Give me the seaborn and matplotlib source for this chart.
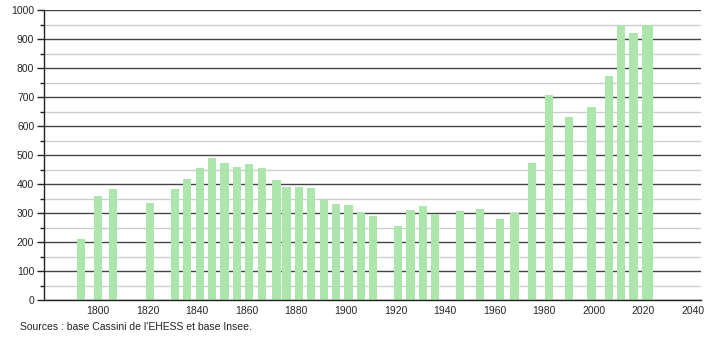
import matplotlib
matplotlib.use("Agg")
import matplotlib.pyplot as plt
import seaborn as sns
import pandas as pd
from matplotlib.ticker import MultipleLocator

years = [1793, 1800, 1806, 1821, 1831, 1836, 1841, 1846, 1851, 1856, 1861, 1866,
         1872, 1876, 1881, 1886, 1891, 1896, 1901, 1906, 1911, 1921, 1926, 1931,
         1936, 1946, 1954, 1962, 1968, 1975, 1982, 1990, 1999, 2006, 2011, 2016,
         2021, 2022]
population = [210, 360, 382, 333, 383, 417, 455, 490, 472, 459, 469, 456,
              414, 390, 390, 386, 346, 332, 328, 305, 290, 255, 310, 324,
              298, 307, 314, 278, 300, 472, 707, 630, 667, 772, 948, 921,
              948, 948]
x_ticks = [1800, 1820, 1840, 1860, 1880, 1900, 1920, 1940, 1960, 1980, 2000, 2020, 2040]
source_text = "Sources : base Cassini de l'EHESS et base Insee."

df = pd.DataFrame({"year": years, "pop": population})

sns.set_style("white")
plt.rcParams["font.family"] = ["Liberation Sans", "DejaVu Sans"]

fig = plt.figure(figsize=(7.1, 3.4), dpi=100)
ax = fig.add_axes([44 / 710, 1 - 300 / 340, (701 - 44) / 710, 290 / 340])

sns.barplot(data=df, x="year", y="pop", native_scale=True, width=3.3,
            color="#ade6ad", saturation=1, errorbar=None, linewidth=0, ax=ax)

ax.set_xlim(1778.2, 2043.2)
ax.set_ylim(0, 1000)
ax.set_xticks(x_ticks)
ax.set_xticklabels([str(t) for t in x_ticks])
ax.yaxis.set_major_locator(MultipleLocator(100))
ax.yaxis.set_minor_locator(MultipleLocator(50))
ax.set_axisbelow(True)
ax.grid(axis="y", which="major", color="#444444", linewidth=1.0)
ax.grid(axis="y", which="minor", color="#cccccc", linewidth=1.0)
ax.set_xlabel("")
ax.set_ylabel("")

for s in ["top", "right"]:
    ax.spines[s].set_visible(False)
ax.spines["left"].set_color("#222222")
ax.spines["bottom"].set_color("#222222")
ax.spines["left"].set_linewidth(1.0)
ax.spines["bottom"].set_linewidth(1.0)

ax.tick_params(axis="y", which="major", length=5, width=1, color="#222222",
               labelsize=7.5, pad=2, left=True)
ax.tick_params(axis="y", which="minor", length=3, width=1, color="#222222", left=True)
ax.tick_params(axis="x", which="major", length=0, labelsize=7.5, pad=4)

fig.text(20 / 710, 1 - 327 / 340, source_text, fontsize=7.5, va="center", ha="left",
         color="#222222")

fig.savefig("out.png", dpi=100)
